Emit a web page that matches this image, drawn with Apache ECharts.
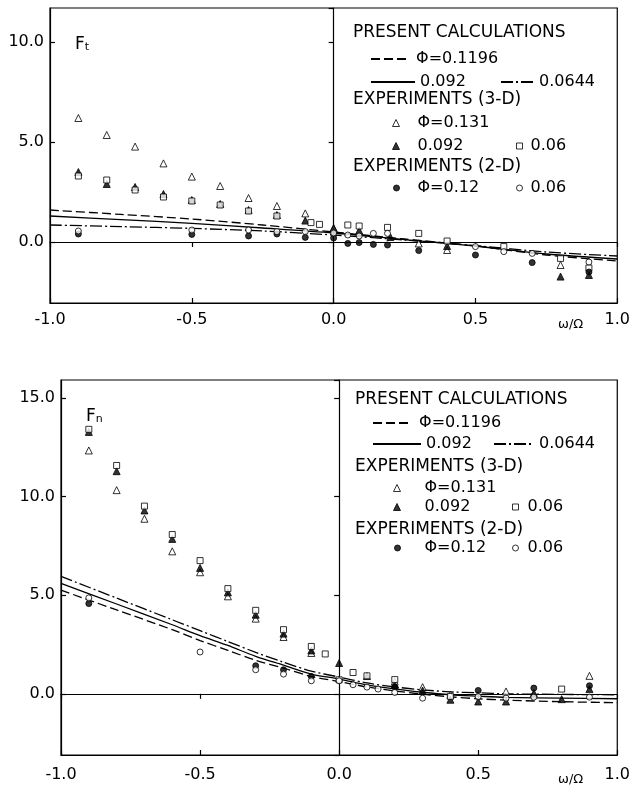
<!DOCTYPE html>
<html>
<head>
<meta charset="utf-8">
<script src="https://cdn.jsdelivr.net/npm/echarts@6/dist/echarts.min.js"></script>
<style>
  html, body { margin: 0; padding: 0; background: #fff; }
  #main { width: 633px; height: 786px; }
</style>
</head>
<body>
<div id="main"></div>
<script>
var myChart = echarts.init(document.getElementById('main'));
var FONT = 'DejaVu Sans';

// ---- Ft (upper plot) ----
var ftCalc1196 = [[-1, 1.6], [-0.75, 1.38], [-0.5, 1.15], [-0.25, 0.85], [0, 0.5], [0.25, 0.15], [0.5, -0.2], [0.75, -0.65], [1, -0.95]];
var ftCalc092 = [[-1, 1.3], [-0.75, 1.12], [-0.5, 0.93], [-0.25, 0.7], [0, 0.45], [0.25, 0.12], [0.5, -0.2], [0.75, -0.6], [1, -0.85]];
var ftCalc0644 = [[-1, 0.85], [-0.75, 0.77], [-0.5, 0.68], [-0.25, 0.55], [0, 0.35], [0.25, 0.1], [0.5, -0.18], [0.75, -0.5], [1, -0.7]];
var ftTri131 = [[-0.9, 6.2], [-0.8, 5.35], [-0.7, 4.77], [-0.6, 3.93], [-0.5, 3.27], [-0.4, 2.8], [-0.3, 2.2], [-0.2, 1.8], [-0.1, 1.43], [0, 0.7], [0.3, -0.07], [0.4, -0.4], [0.8, -1.15]];
var ftTri092 = [[-0.9, 3.5], [-0.8, 2.9], [-0.7, 2.75], [-0.6, 2.4], [-0.5, 2.1], [-0.4, 1.9], [-0.3, 1.6], [-0.2, 1.35], [-0.1, 1.07], [0, 0.68], [0.09, 0.57], [0.2, 0.25], [0.4, -0.2], [0.8, -1.73], [0.9, -1.65]];
var ftSq06 = [[-0.9, 3.3], [-0.8, 3.1], [-0.7, 2.6], [-0.6, 2.25], [-0.5, 2.05], [-0.4, 1.85], [-0.3, 1.55], [-0.2, 1.3], [-0.08, 0.97], [-0.05, 0.88], [0.05, 0.85], [0.09, 0.8], [0.19, 0.73], [0.3, 0.43], [0.4, 0.05], [0.6, -0.23], [0.8, -0.82], [0.9, -1.3]];
var ftDot12 = [[-0.9, 0.4], [-0.5, 0.38], [-0.3, 0.3], [-0.2, 0.4], [-0.1, 0.23], [0, 0.2], [0.05, -0.07], [0.09, -0.03], [0.14, -0.12], [0.19, -0.15], [0.3, -0.43], [0.5, -0.65], [0.7, -1.03], [0.9, -1.5]];
var ftCirc06 = [[-0.9, 0.55], [-0.5, 0.6], [-0.3, 0.6], [-0.2, 0.52], [-0.1, 0.52], [0, 0.45], [0.05, 0.35], [0.09, 0.3], [0.14, 0.43], [0.19, 0.43], [0.5, -0.23], [0.6, -0.48], [0.7, -0.57], [0.9, -1.0]];

// ---- Fn (lower plot) ----
var fnCalc1196 = [[-1, 5.25], [-0.8, 4.25], [-0.6, 3.25], [-0.5, 2.7], [-0.4, 2.2], [-0.3, 1.7], [-0.2, 1.3], [-0.1, 0.88], [0, 0.62], [0.1, 0.35], [0.2, 0.15], [0.3, -0.02], [0.4, -0.15], [0.5, -0.25], [0.6, -0.32], [0.8, -0.4], [1, -0.45]];
var fnCalc092 = [[-1, 5.6], [-0.8, 4.55], [-0.6, 3.5], [-0.5, 2.95], [-0.4, 2.45], [-0.3, 1.9], [-0.2, 1.45], [-0.1, 1.0], [0, 0.75], [0.1, 0.45], [0.2, 0.25], [0.3, 0.08], [0.4, -0.05], [0.5, -0.12], [0.6, -0.18], [0.8, -0.22], [1, -0.25]];
var fnCalc0644 = [[-1, 5.95], [-0.8, 4.85], [-0.6, 3.75], [-0.5, 3.2], [-0.4, 2.65], [-0.3, 2.1], [-0.2, 1.6], [-0.1, 1.15], [0, 0.85], [0.1, 0.55], [0.2, 0.35], [0.3, 0.2], [0.4, 0.1], [0.5, 0.05], [0.6, 0.0], [0.8, -0.03], [1, -0.05]];
var fnTri131 = [[-0.9, 12.33], [-0.8, 10.32], [-0.7, 8.87], [-0.6, 7.22], [-0.5, 6.16], [-0.4, 4.94], [-0.3, 3.81], [-0.2, 2.88], [-0.1, 2.07], [0.2, 0.62], [0.3, 0.34], [0.4, -0.05], [0.6, 0.12], [0.9, 0.91]];
var fnTri092 = [[-0.9, 13.27], [-0.8, 11.28], [-0.7, 9.29], [-0.6, 7.85], [-0.5, 6.38], [-0.4, 5.14], [-0.3, 4.01], [-0.2, 3.05], [-0.1, 2.2], [0, 1.56], [0.1, 0.9], [0.2, 0.45], [0.3, 0.17], [0.4, -0.3], [0.5, -0.39], [0.6, -0.39], [0.7, 0.04], [0.8, -0.27], [0.9, 0.24]];
var fnSq06 = [[-0.9, 13.4], [-0.8, 11.57], [-0.7, 9.51], [-0.6, 8.07], [-0.5, 6.75], [-0.4, 5.33], [-0.3, 4.23], [-0.2, 3.25], [-0.1, 2.4], [-0.05, 2.02], [0, 0.71], [0.05, 1.08], [0.1, 0.91], [0.2, 0.72], [0.4, -0.13], [0.8, 0.24]];
var fnDot12 = [[-0.9, 4.57], [-0.3, 1.42], [-0.2, 1.22], [-0.1, 0.88], [0.2, 0.35], [0.5, 0.17], [0.7, 0.29], [0.9, 0.41]];
var fnCirc06 = [[-0.9, 4.86], [-0.5, 2.12], [-0.3, 1.22], [-0.2, 1.0], [-0.1, 0.66], [0, 0.66], [0.05, 0.46], [0.1, 0.34], [0.14, 0.24], [0.2, 0.07], [0.3, -0.22], [0.5, -0.14], [0.6, -0.22], [0.7, -0.17], [0.9, -0.17]];

// legend texts
var seriesLabels = {
  'calc 0.1196': ' Φ=0.1196',
  'calc 0.092': '0.092',
  'calc 0.0644': '0.0644',
  '3-D 0.131': 'Φ=0.131',
  '3-D 0.092': '0.092',
  '3-D 0.06': '0.06',
  '2-D 0.12': 'Φ=0.12',
  '2-D 0.06': '0.06'
};

// plot boxes
var boxes = [
  { left: 50, top: 8, width: 573, height: 295, yMin: -3.05, yMax: 11.7, xMargin: 9, name: 't' },
  { left: 61, top: 380, width: 563, height: 375, yMin: -3.1, yMax: 15.9, xMargin: 12, name: 'n' }
];
var chartData = [
  [ftCalc1196, ftCalc092, ftCalc0644, ftTri131, ftTri092, ftSq06, ftDot12, ftCirc06],
  [fnCalc1196, fnCalc092, fnCalc0644, fnTri131, fnTri092, fnSq06, fnDot12, fnCirc06]
];
// legend placement: [series, left, center y, icon width, icon height, gap before text]
var legendPlaces = [
  [['calc 0.1196', 370, 59, 35, 10, 0], ['calc 0.092', 370, 82, 44, 10, 0], ['calc 0.0644', 500, 82, 33, 10, 0],
   ['3-D 0.131', 392, 123, 7, 7, 13], ['3-D 0.092', 392, 146, 7, 7, 13], ['3-D 0.06', 516, 146, 6, 6, 3],
   ['2-D 0.12', 393, 188, 6, 6, 13], ['2-D 0.06', 516, 188, 6, 6, 3]],
  [['calc 0.1196', 372, 423, 36, 10, 0], ['calc 0.092', 372, 444, 48, 10, 0], ['calc 0.0644', 493, 444, 40, 10, 0],
   ['3-D 0.131', 393, 488, 7, 7, 19], ['3-D 0.092', 393, 507, 7, 7, 19], ['3-D 0.06', 512, 507, 6, 6, 4],
   ['2-D 0.12', 394, 548, 6, 6, 19], ['2-D 0.06', 512, 548, 6, 6, 4]]
];
var headerPlaces = [
  [['PRESENT CALCULATIONS', 353, 33], ['EXPERIMENTS (3-D)', 353, 100], ['EXPERIMENTS (2-D)', 353, 167]],
  [['PRESENT CALCULATIONS', 355, 400], ['EXPERIMENTS (3-D)', 355, 467], ['EXPERIMENTS (2-D)', 355, 530]]
];

var black = '#000';
var seriesStyles = [
  { name: 'calc 0.1196', type: 'line', lineType: [9, 4] },
  { name: 'calc 0.092', type: 'line', lineType: 'solid' },
  { name: 'calc 0.0644', type: 'line', lineType: [12, 3, 2, 3] },
  { name: '3-D 0.131', type: 'scatter', symbol: 'triangle', size: 7, fill: '#fff' },
  { name: '3-D 0.092', type: 'scatter', symbol: 'triangle', size: 7, fill: black },
  { name: '3-D 0.06', type: 'scatter', symbol: 'rect', size: 6, fill: '#fff' },
  { name: '2-D 0.12', type: 'scatter', symbol: 'circle', size: 6, fill: black },
  { name: '2-D 0.06', type: 'scatter', symbol: 'circle', size: 6, fill: '#fff' }
];

function fmtY(v) {
  return Math.abs(v % 5) < 1e-6 ? v.toFixed(1) : '';
}

var option = {
  animation: false,
  backgroundColor: '#fff',
  color: [black],
  textStyle: { fontFamily: FONT, color: black },
  title: [],
  legend: [],
  grid: [],
  xAxis: [],
  yAxis: [],
  series: []
};

boxes.forEach(function (b, k) {
  option.grid.push({
    left: b.left, top: b.top, width: b.width, height: b.height,
    show: true, borderColor: black, borderWidth: 1.2, containLabel: false
  });
  var lineSt = { color: black, width: 1.2 };
  // frame axes with labels
  option.xAxis.push({
    type: 'value', gridIndex: k, min: -1, max: 1, interval: 0.5,
    axisLine: { onZero: false, lineStyle: lineSt },
    axisTick: { inside: true, length: 5, lineStyle: lineSt },
    axisLabel: { color: black, fontSize: 16, fontFamily: FONT, margin: b.xMargin,
      formatter: function (v) { return v.toFixed(1); } },
    splitLine: { show: false }
  });
  // x axis through y = 0
  option.xAxis.push({
    type: 'value', gridIndex: k, min: -1, max: 1, interval: 0.5,
    axisLine: { onZero: true, lineStyle: lineSt },
    axisTick: { inside: true, length: 5, lineStyle: lineSt },
    axisLabel: { show: false },
    splitLine: { show: false }
  });
  option.yAxis.push({
    type: 'value', gridIndex: k, min: b.yMin, max: b.yMax, splitNumber: 3,
    axisLine: { onZero: false, lineStyle: lineSt },
    axisTick: { inside: true, length: 5, lineStyle: lineSt },
    axisLabel: { color: black, fontSize: 16, fontFamily: FONT, margin: 6, formatter: fmtY,
      showMinLabel: false, showMaxLabel: false },
    splitLine: { show: false }
  });
  // y axis through x = 0
  option.yAxis.push({
    type: 'value', gridIndex: k, min: b.yMin, max: b.yMax, splitNumber: 3,
    axisLine: { onZero: true, lineStyle: lineSt },
    axisTick: { inside: true, length: 5, lineStyle: lineSt },
    axisLabel: { show: false },
    splitLine: { show: false }
  });

  seriesStyles.forEach(function (s, i) {
    var item = {
      name: s.name, type: s.type, xAxisIndex: 2 * k, yAxisIndex: 2 * k,
      data: chartData[k][i], silent: true
    };
    if (s.type === 'line') {
      item.symbol = 'none';
      item.smooth = 0.3;
      item.color = black;
      item.itemStyle = { color: black, opacity: 0 };
      item.lineStyle = { color: black, width: 1.3, type: s.lineType };
      item.z = 2;
    } else {
      item.symbol = s.symbol;
      item.symbolSize = s.size;
      item.itemStyle = { color: s.fill, borderColor: black, borderWidth: 1 };
      item.z = 3;
    }
    option.series.push(item);
  });

  legendPlaces[k].forEach(function (p, j) {
    var isLine = j < 3;
    var gap = p[5];
    option.legend.push({
      data: [p[0]],
      left: p[1], top: p[2] - 9, itemWidth: p[3], itemHeight: p[4],
      padding: 0, itemGap: 0, selectedMode: false,
      itemStyle: isLine ? { opacity: 0 } : { borderWidth: 1, borderColor: black },
      textStyle: { color: black, fontSize: 16, fontFamily: FONT, lineHeight: 18,
        rich: { g: { width: gap, fontSize: 16, lineHeight: 18 } } },
      formatter: function (n) {
        return gap > 0 ? '{g| }' + seriesLabels[n] : seriesLabels[n];
      }
    });
  });

  headerPlaces[k].forEach(function (h) {
    option.title.push({
      text: h[0], left: h[1], top: h[2] - 9, padding: 0,
      textStyle: { color: black, fontSize: 17, fontWeight: 'normal', fontFamily: FONT, lineHeight: 18 }
    });
  });

  // F_t / F_n label
  option.title.push({
    text: '{a|F}{b|' + b.name + '}', left: b.left + 25, top: b.top + 25, padding: 0,
    textStyle: {
      fontWeight: 'normal',
      rich: {
        a: { fontSize: 17, fontFamily: FONT, fontWeight: 'normal', color: black, verticalAlign: 'bottom', lineHeight: 20 },
        b: { fontSize: 11, fontFamily: FONT, fontWeight: 'normal', color: black, verticalAlign: 'bottom', lineHeight: 16 }
      }
    }
  });
  // axis name
  option.title.push({
    text: 'ω/Ω', left: 558, top: b.top + b.height + b.xMargin + 6, padding: 0,
    textStyle: { color: black, fontSize: 13, fontWeight: 'normal', fontFamily: FONT }
  });
});

myChart.setOption(option);
</script>
</body>
</html>
